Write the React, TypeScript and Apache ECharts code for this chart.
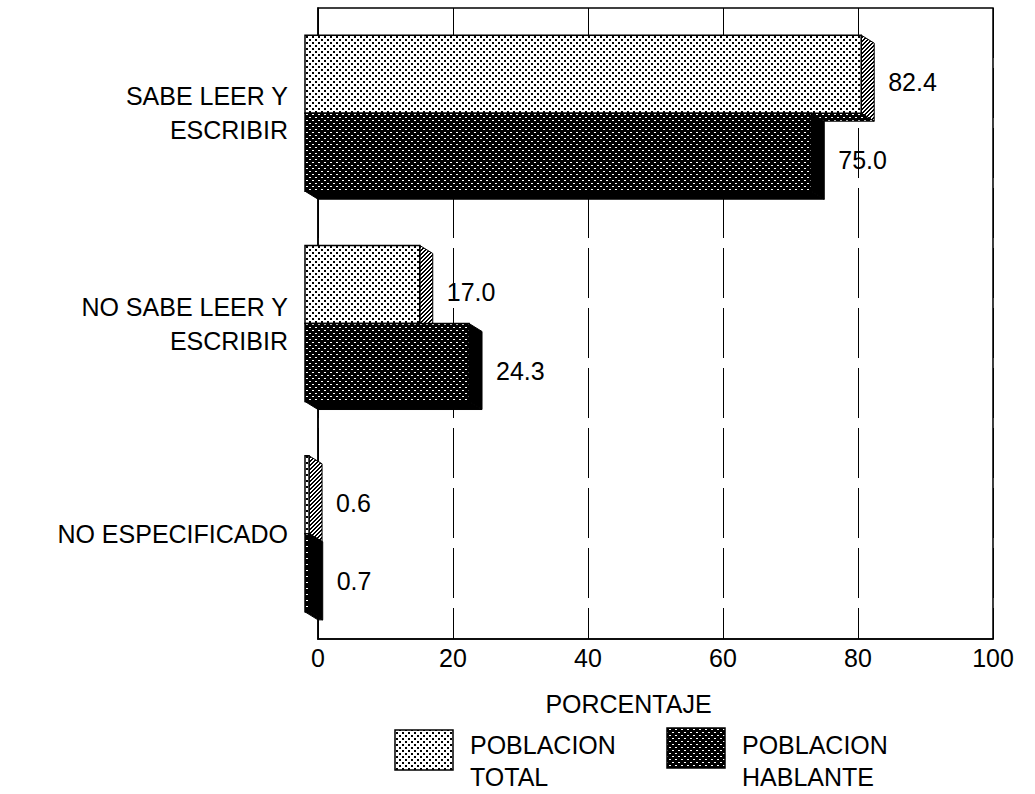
import React, { useEffect, useRef } from "react";
import * as echarts from "echarts";

const categories: string[] = [
  "SABE LEER Y\nESCRIBIR",
  "NO SABE LEER Y\nESCRIBIR",
  "NO ESPECIFICADO",
];
const seriesNames: string[] = ["POBLACION\nTOTAL", "POBLACION\nHABLANTE"];
const totalValues: number[] = [82.4, 17.0, 0.6];
const hablanteValues: number[] = [75.0, 24.3, 0.7];
const xTicks = { min: 0, max: 100, interval: 20 };
const axisName = "PORCENTAJE";

const FONT = '"Liberation Sans", Arial, Helvetica, sans-serif';

function makeTile(size: number, bg: string, fg: string, rects: number[][]): HTMLCanvasElement {
  const c = document.createElement("canvas");
  c.width = size;
  c.height = size;
  const ctx = c.getContext("2d")!;
  ctx.fillStyle = bg;
  ctx.fillRect(0, 0, size, size);
  ctx.fillStyle = fg;
  rects.forEach(([x, y, w, h]) => ctx.fillRect(x, y, w, h));
  return c;
}

export default function App() {
  const ref = useRef<HTMLDivElement>(null);
  useEffect(() => {
    document.body.style.margin = "0";
    if (!ref.current) return;
    const chart = echarts.init(ref.current, undefined, { renderer: "svg" });

    const lightTile = makeTile(6, "#ffffff", "#000000", [[0, 0, 2, 2], [3, 3, 2, 2]]);
    const darkTile = makeTile(6, "#000000", "#ffffff", [[0, 0, 2, 1], [3, 3, 2, 1]]);
    const hatchTile = makeTile(4, "#ffffff", "#000000", [[0, 3, 1, 1], [1, 2, 1, 1], [2, 1, 1, 1], [3, 0, 1, 1], [0, 2, 1, 1], [1, 1, 1, 1], [2, 0, 1, 1], [3, 3, 1, 1]]);
    const lightPat: any = { image: lightTile, repeat: "repeat" };
    const darkPat: any = { image: darkTile, repeat: "repeat" };
    const hatchPat: any = { image: hatchTile, repeat: "repeat" };

    const styles = [
      { front: lightPat, side: hatchPat, bottom: darkPat },
      { front: darkPat, side: "#000", bottom: "#000" },
    ];

    const makeRender = (slot: number) => (params: any, api: any) => {
      const v = api.value(0);
      const c = api.value(1);
      const p0 = api.coord([0, c]);
      const p1 = api.coord([v, c]);
      const band = api.size([0, 1])[1];
      const h = band * 0.371;
      const dx = 13;
      const dy = 8;
      const backTop = p0[1] - band * 0.333 + slot * h;
      const backBottom = backTop + h;
      const xl = p0[0];
      const xr = p1[0];
      const st = styles[slot];
      return {
        type: "group",
        children: [
          {
            type: "polygon",
            shape: { points: [[xr - dx, backTop - dy], [xr, backTop], [xr, backBottom], [xr - dx, backBottom - dy]] },
            style: { fill: st.side, stroke: "#000", lineWidth: 1 },
          },
          {
            type: "polygon",
            shape: { points: [[xl - dx, backBottom - dy], [xr - dx, backBottom - dy], [xr, backBottom], [xl, backBottom]] },
            style: { fill: st.bottom, stroke: "#000", lineWidth: 1 },
          },
          {
            type: "rect",
            shape: { x: xl - dx, y: backTop - dy, width: Math.max(xr - xl, 0), height: h },
            style: { fill: st.front, stroke: "#000", lineWidth: 1.5 },
          },
          {
            type: "text",
            style: {
              text: v.toFixed(1),
              x: xr + 14,
              y: (backTop + backBottom) / 2,
              verticalAlign: "middle",
              align: "left",
              fill: "#000",
              font: `25px ${FONT}`,
            },
          },
        ],
      };
    };

    const option: any = {
      animation: false,
      backgroundColor: "#fff",
      grid: {
        left: 318,
        right: 42,
        top: 8,
        bottom: 155,
        show: true,
        borderColor: "#000",
        borderWidth: 1.5,
        containLabel: false,
      },
      xAxis: {
        type: "value",
        min: xTicks.min,
        max: xTicks.max,
        interval: xTicks.interval,
        name: axisName,
        nameLocation: "middle",
        nameGap: 52,
        nameTextStyle: { color: "#000", fontSize: 25, fontFamily: FONT, padding: [0, 54, 0, 0] },
        axisLine: { show: true, lineStyle: { color: "#000", width: 1.5 } },
        axisTick: { show: false },
        axisLabel: { color: "#000", fontSize: 25, fontFamily: FONT, margin: 6 },
        splitLine: { show: true, lineStyle: { color: "#000", width: 1, type: [50, 10] } },
      },
      yAxis: {
        type: "category",
        data: categories,
        inverse: true,
        axisLine: { show: true, lineStyle: { color: "#000", width: 1.5 } },
        axisTick: { show: false },
        axisLabel: { color: "#000", fontSize: 25, fontFamily: FONT, margin: 30, lineHeight: 34, align: "right" },
        splitLine: { show: false },
      },
      series: [
        {
          type: "custom",
          name: seriesNames[0],
          renderItem: makeRender(0),
          encode: { x: 0, y: 1 },
          data: totalValues.map((v, i) => [v, i]),
          z: 2,
        },
        {
          type: "custom",
          name: seriesNames[1],
          renderItem: makeRender(1),
          encode: { x: 0, y: 1 },
          data: hablanteValues.map((v, i) => [v, i]),
          z: 3,
        },
      ],
      graphic: [
        {
          type: "rect",
          shape: { x: 395, y: 730, width: 58, height: 40 },
          style: { fill: lightPat, stroke: "#000", lineWidth: 1.5 },
        },
        {
          type: "text",
          x: 470,
          y: 729,
          style: { text: seriesNames[0], font: `25px ${FONT}`, fill: "#000", lineHeight: 32, verticalAlign: "top" },
        },
        {
          type: "rect",
          shape: { x: 667, y: 728, width: 58, height: 40 },
          style: { fill: darkPat, stroke: "#000", lineWidth: 1.5 },
        },
        {
          type: "text",
          x: 742,
          y: 729,
          style: { text: seriesNames[1], font: `25px ${FONT}`, fill: "#000", lineHeight: 32, verticalAlign: "top" },
        },
      ],
    };
    chart.setOption(option);
    return () => chart.dispose();
  }, []);
  return <div ref={ref} style={{ width: 1035, height: 794 }} />;
}
